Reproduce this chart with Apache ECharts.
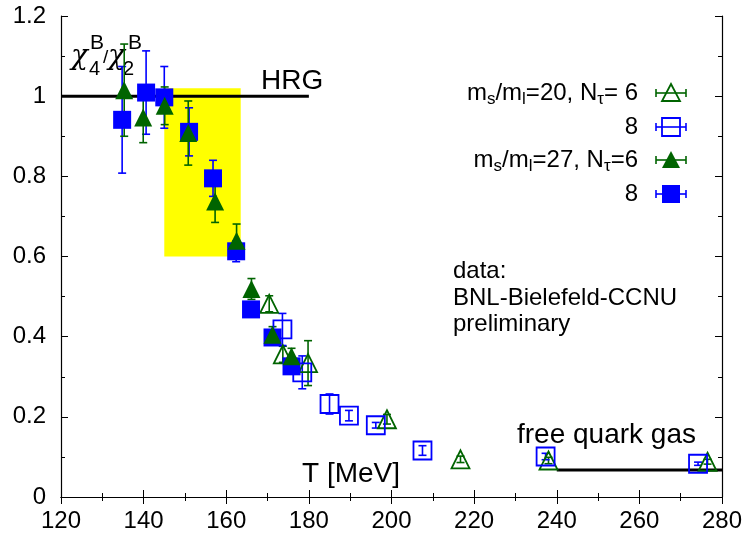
<!DOCTYPE html>
<html>
<head>
<meta charset="utf-8">
<script src="https://cdn.jsdelivr.net/npm/echarts@6/dist/echarts.min.js"></script>
<style>
html,body{margin:0;padding:0;background:#fff;}
#main{width:751px;height:537px;}
</style>
</head>
<body>
<div id="main"></div>
<script>
// [T, chi4/chi2, error]
var open_tri_20_6 = [[170.4,0.482,0.02],[173.7,0.356,0.02],[179.8,0.334,0.056],[198.9,0.194,0.012],[216.7,0.094,0.008],[238,0.091,0.008],[276.5,0.088,0.006]];
var open_sq_20_8 = [[173.6,0.418,0.04],[178.4,0.311,0.041],[185,0.232,0.025],[189.7,0.203,0.013],[196.2,0.179,0.007],[207.5,0.116,0.012],[237.3,0.101,0.008],[274.2,0.083,0.004]];
var fill_tri_27_6 = [[135.3,1.015,0.115],[139.9,0.947,0.063],[145.1,0.976,0.047],[150.8,0.908,0.08],[157.3,0.737,0.052],[162.5,0.639,0.042],[166.1,0.519,0.026],[171.2,0.405,0.02],[175.8,0.351,0.02]];
var fill_sq_27_8 = [[134.8,0.941,0.133],[140.6,1.009,0.104],[145,0.997,0.077],[151,0.911,0.06],[156.8,0.795,0.045],[162.4,0.613,0.026],[166,0.468,0.015],[171.2,0.398,0.015],[175.8,0.326,0.015]];
var hrg_line = [[120,1],[180,1]];
var fqg_line = [[240,0.0675],[280,0.0675]];
var box_T = [145,163.5];
var box_y = [0.6,1.02];

var GREEN = '#006400';
var BLUE = '#0000ff';
var FONT = 'Liberation Sans, Arial, sans-serif';

var chart = echarts.init(document.getElementById('main'));

function errRender(color){
    return function(params, api){
        var x = api.value(0), y = api.value(1), e = api.value(2);
        var a = api.coord([x, y + e]), b = api.coord([x, y - e]);
        var hw = 4;
        var st = {stroke: color, lineWidth: 1.6};
        return {type: 'group', children: [
            {type: 'line', shape: {x1: a[0], y1: a[1], x2: b[0], y2: b[1]}, style: st},
            {type: 'line', shape: {x1: a[0]-hw, y1: a[1], x2: a[0]+hw, y2: a[1]}, style: st},
            {type: 'line', shape: {x1: b[0]-hw, y1: b[1], x2: b[0]+hw, y2: b[1]}, style: st}
        ]};
    };
}

function errSeries(data, color){
    return {type: 'custom', data: data, encode: {x: 0, y: 1}, renderItem: errRender(color), z: 3, silent: true};
}
function symSeries(data, symbol, color, filled){
    return {
        type: 'scatter', data: data.map(function(d){ return [d[0], d[1]]; }),
        symbol: symbol, symbolSize: 18, z: 3, silent: true,
        itemStyle: filled ? {color: color, opacity: 1} : {color: 'rgba(0,0,0,0)', borderColor: color, borderWidth: 1.8, opacity: 1}
    };
}

// legend drawn by hand: text right aligned, symbol with x-error bar on the right
var legendRows = [
    {text: '{n|m}{s|s}{n|/m}{s|l}{n|=20, N}{s|τ}{n|= 6}', symbol: 'tri', color: GREEN, filled: false, y: 93},
    {text: '{n|8}', symbol: 'sq', color: BLUE, filled: false, y: 127},
    {text: '{n|m}{s|s}{n|/m}{s|l}{n|=27, N}{s|τ}{n|=6}', symbol: 'tri', color: GREEN, filled: true, y: 160},
    {text: '{n|8}', symbol: 'sq', color: BLUE, filled: true, y: 194}
];
var graphics = [];
legendRows.forEach(function(r){
    graphics.push({
        type: 'text', x: 638, y: r.y,
        style: {
            text: r.text, align: 'right', verticalAlign: 'middle', fill: '#000',
            rich: {
                n: {fontSize: 24, fontFamily: FONT, lineHeight: 30, fill: '#000'},
                s: {fontSize: 17, fontFamily: FONT, lineHeight: 14, verticalAlign: 'bottom', fill: '#000'}
            }
        }
    });
    var st = {stroke: r.color, lineWidth: 1.6};
    var cx = 671, cy = r.y;
    var kids = [
        {type: 'line', shape: {x1: cx-15, y1: cy, x2: cx+15, y2: cy}, style: st},
        {type: 'line', shape: {x1: cx-15, y1: cy-4, x2: cx-15, y2: cy+4}, style: st},
        {type: 'line', shape: {x1: cx+15, y1: cy-4, x2: cx+15, y2: cy+4}, style: st}
    ];
    var symStyle = r.filled ? {fill: r.color} : {fill: 'none', stroke: r.color, lineWidth: 1.8};
    if (r.symbol === 'tri') {
        kids.push({type: 'polygon', shape: {points: [[cx, cy-9], [cx-9, cy+8], [cx+9, cy+8]]}, style: symStyle});
    } else {
        kids.push({type: 'rect', shape: {x: cx-9, y: cy-9, width: 18, height: 18}, style: symStyle});
    }
    graphics.push({type: 'group', children: kids});
});

// labels, placed by baseline (approximated via bottom of em box)
function lab(s, x, baseline, fs, fam, sty){
    return {type: 'text', x: x, y: baseline + Math.round(fs * 0.21),
        style: {text: s, font: (sty ? sty + ' ' : '') + fs + 'px ' + (fam || FONT), fill: '#000', align: 'left', verticalAlign: 'bottom'}};
}
graphics.push(lab('χ', 71, 65, 28, 'DejaVu Serif', 'italic'));
graphics.push(lab('4', 89, 75, 20));
graphics.push(lab('B', 90, 50, 21));
graphics.push(lab('/', 103, 63, 19));
graphics.push(lab('χ', 108, 65, 28, 'DejaVu Serif', 'italic'));
graphics.push(lab('2', 123, 75, 20));
graphics.push(lab('B', 128, 50, 21));
graphics.push(lab('HRG', 261, 89, 28));
graphics.push(lab('T [MeV]', 302, 482, 28));
graphics.push(lab('free quark gas', 517, 443, 28));
graphics.push(lab('data:', 453, 278, 24));
graphics.push(lab('BNL-Bielefeld-CCNU', 453, 305, 24));
graphics.push(lab('preliminary', 453, 331, 24));

var axisCommon = {
    axisLine: {lineStyle: {color: '#000', width: 1.2}},
    axisTick: {inside: true, length: 7, lineStyle: {color: '#000', width: 1}},
    minorTick: {show: true, splitNumber: 2, length: 4, lineStyle: {color: '#000', width: 1}},
    splitLine: {show: false}
};

var option = {
    animation: false,
    backgroundColor: '#fff',
    grid: {left: 61, right: 29, top: 16, bottom: 40, containLabel: false},
    xAxis: [
        Object.assign({
            type: 'value', min: 120, max: 280, interval: 20, position: 'bottom',
            axisLabel: {color: '#000', fontSize: 24, fontFamily: FONT, margin: 12}
        }, axisCommon),
        Object.assign({
            type: 'value', min: 120, max: 280, interval: 20, position: 'top',
            axisLabel: {show: false}
        }, axisCommon)
    ],
    yAxis: [
        Object.assign({
            type: 'value', min: 0, max: 1.2, interval: 0.2, position: 'left',
            axisLabel: {color: '#000', fontSize: 24, fontFamily: FONT, margin: 15,
                formatter: function(v){ return String(Math.round(v * 10) / 10); }}
        }, axisCommon),
        Object.assign({
            type: 'value', min: 0, max: 1.2, interval: 0.2, position: 'right',
            axisLabel: {show: false}
        }, axisCommon)
    ],
    series: [
        {
            type: 'line', data: [], z: 1, silent: true,
            markArea: {
                silent: true,
                itemStyle: {color: '#ffff00', opacity: 1},
                data: [[{coord: [box_T[0], box_y[0]]}, {coord: [box_T[1], box_y[1]]}]]
            }
        },
        {type: 'line', data: hrg_line, showSymbol: false, z: 2, silent: true, lineStyle: {color: '#000', width: 3}},
        {type: 'line', data: fqg_line, showSymbol: false, z: 2, silent: true, lineStyle: {color: '#000', width: 3}},
        errSeries(open_tri_20_6, GREEN),
        symSeries(open_tri_20_6, 'triangle', GREEN, false),
        errSeries(open_sq_20_8, BLUE),
        symSeries(open_sq_20_8, 'rect', BLUE, false),
        errSeries(fill_sq_27_8, BLUE),
        symSeries(fill_sq_27_8, 'rect', BLUE, true),
        errSeries(fill_tri_27_6, GREEN),
        symSeries(fill_tri_27_6, 'triangle', GREEN, true)
    ],
    graphic: graphics
};
chart.setOption(option);
</script>
</body>
</html>
